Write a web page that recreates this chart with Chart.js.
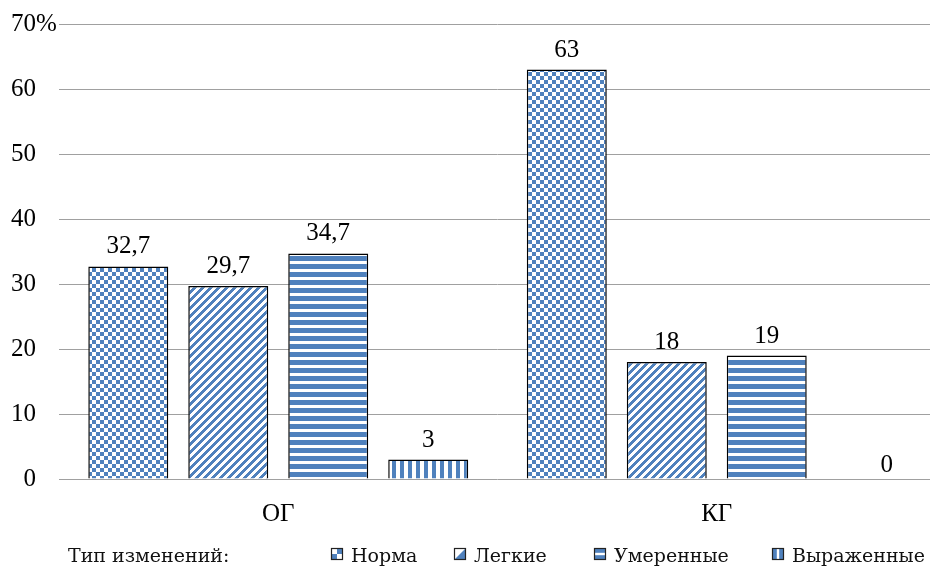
<!DOCTYPE html>
<html><head><meta charset="utf-8">
<script src="https://cdn.jsdelivr.net/npm/chart.js@4/dist/chart.umd.min.js"></script>
<style>html,body{margin:0;padding:0;overflow:hidden;background:#fff}#wrap{width:930px;height:567px;overflow:hidden;position:relative}
.pre{position:absolute;left:-9999px;top:0}</style>
</head><body><div id="wrap"><canvas id="c" width="936" height="567"></canvas></div>
<div class="pre" style="font-family:'Liberation Serif'">ОГ 0123,%</div>
<div class="pre" style="font-family:'DejaVu Serif'">Тип изменений</div>
<script>
const categories = ['ОГ', 'КГ'];
const seriesNames = ['Норма', 'Легкие', 'Умеренные', 'Выраженные'];
const normaValues = [32.7, 63];
const legkieValues = [29.7, 18];
const umerennyeValues = [34.7, 19];
const vyrazhennyeValues = [3, 0];
const yTickValues = [0, 10, 20, 30, 40, 50, 60, 70];
const legendTitle = 'Тип изменений:';

const BLUE = '#4F81BD';
const SERIF = "'Liberation Serif'";
const LEGFONT = "'DejaVu Serif'";
const FS = 25;

function makePattern(type) {
  const c = document.createElement('canvas');
  c.width = 8; c.height = 8;
  const g = c.getContext('2d');
  g.fillStyle = '#fff'; g.fillRect(0, 0, 8, 8);
  g.fillStyle = BLUE;
  if (type === 'checker') { g.fillRect(0, 0, 4, 4); g.fillRect(4, 4, 4, 4); }
  else if (type === 'diag') {
    for (let x = 0; x < 8; x++) for (let y = 0; y < 8; y++) if (((x + y) % 8) < 4) g.fillRect(x, y, 1, 1);
  }
  else if (type === 'horiz') { g.fillRect(0, 0, 8, 5); }
  else if (type === 'vert') { g.fillRect(0, 0, 4, 8); }
  return document.getElementById('c').getContext('2d').createPattern(c, 'repeat');
}
const patternTypes = ['checker', 'diag', 'horiz', 'vert'];
const seriesValues = [normaValues, legkieValues, umerennyeValues, vyrazhennyeValues];

const fmt = v => String(v).replace('.', ',');

const labelsPlugin = {
  id: 'vals',
  afterDatasetsDraw(chart) {
    const ctx = chart.ctx;
    ctx.save();
    ctx.font = FS + 'px ' + SERIF;
    ctx.fillStyle = '#000';
    ctx.textAlign = 'center';
    ctx.textBaseline = 'alphabetic';
    chart.data.datasets.forEach((ds, di) => {
      const meta = chart.getDatasetMeta(di);
      meta.data.forEach((el, i) => {
        const v = ds.data[i];
        const dx = v === 0 ? 20 : 0;
        ctx.fillText(fmt(v), el.x + dx, el.y - (v === 0 ? 7 : 13));
      });
    });
    const ys = chart.scales.y;
    ctx.textAlign = 'left';
    ctx.textBaseline = 'middle';
    ctx.fillText('%', chart.chartArea.left - 23, ys.getPixelForValue(ys.max));
    ctx.restore();
  }
};

function drawSwatch(ctx, type, x, y, s) {
  ctx.save();
  ctx.fillStyle = '#fff';
  ctx.fillRect(x, y, s, s);
  ctx.fillStyle = BLUE;
  const h = s / 2;
  if (type === 'checker') { ctx.fillRect(x + h, y, h, h); ctx.fillRect(x, y + h, h, h); }
  else if (type === 'diag') { ctx.beginPath(); ctx.moveTo(x + s, y); ctx.lineTo(x + s, y + s); ctx.lineTo(x, y + s); ctx.closePath(); ctx.fill(); }
  else if (type === 'horiz') { ctx.fillRect(x, y, s, s * 0.4); ctx.fillRect(x, y + s * 0.6, s, s * 0.4); }
  else if (type === 'vert') { ctx.fillRect(x, y, s * 0.4, s); ctx.fillRect(x + s * 0.6, y, s * 0.4, s); }
  ctx.strokeStyle = '#222';
  ctx.lineWidth = 1.2;
  ctx.strokeRect(x + 0.5, y + 0.5, s - 1, s - 1);
  ctx.restore();
}

const legendPlugin = {
  id: 'customLegend',
  afterDraw(chart) {
    const ctx = chart.ctx;
    ctx.save();
    ctx.font = '19px ' + LEGFONT;
    ctx.fillStyle = '#111';
    ctx.textBaseline = 'alphabetic';
    ctx.textAlign = 'left';
    const base = 562;
    ctx.fillText(legendTitle, 68, base);
    const boxX = [331, 454, 594, 772];
    seriesNames.forEach((n, i) => {
      drawSwatch(ctx, patternTypes[i], boxX[i], 548, 12);
      ctx.fillText(n, boxX[i] + 20, base);
    });
    ctx.restore();
  }
};

function build() {
  const datasets = seriesNames.map((name, i) => ({
    label: name,
    data: seriesValues[i],
    backgroundColor: makePattern(patternTypes[i]),
    borderColor: '#000',
    borderWidth: seriesValues[i].map(v => v === 0 ? 0 : 1.5),
    borderSkipped: 'bottom',
    barPercentage: 0.8,
    categoryPercentage: 0.912
  }));
  new Chart(document.getElementById('c'), {
    type: 'bar',
    data: { labels: categories, datasets },
    options: {
      responsive: false,
      animation: false,
      events: [],
      layout: { padding: { top: 24, left: 0, right: 0, bottom: 0 } },
      plugins: { legend: { display: false }, tooltip: { enabled: false } },
      scales: {
        x: {
          grid: { display: false, drawTicks: false },
          border: { display: false },
          ticks: { font: { family: SERIF, size: FS }, color: '#000', padding: 20 },
          afterFit(s) { s.height = 88; s.paddingLeft = 0; s.paddingRight = 0; }
        },
        y: {
          min: 0, max: 70,
          afterBuildTicks(s) { s.ticks = yTickValues.map(v => ({ value: v })); },
          grid: { color: '#a0a0a0', lineWidth: 1, drawTicks: false },
          border: { display: false },
          ticks: { font: { family: SERIF, size: FS }, color: '#000', padding: 23 },
          afterFit(s) { s.width = 59; s.paddingTop = 0; s.paddingBottom = 0; }
        }
      }
    },
    plugins: [labelsPlugin, legendPlugin]
  });
}
Promise.all([
  document.fonts.load(FS + "px 'Liberation Serif'"),
  document.fonts.load("19px 'DejaVu Serif'")
]).then(build, build);
</script>
</body></html>
